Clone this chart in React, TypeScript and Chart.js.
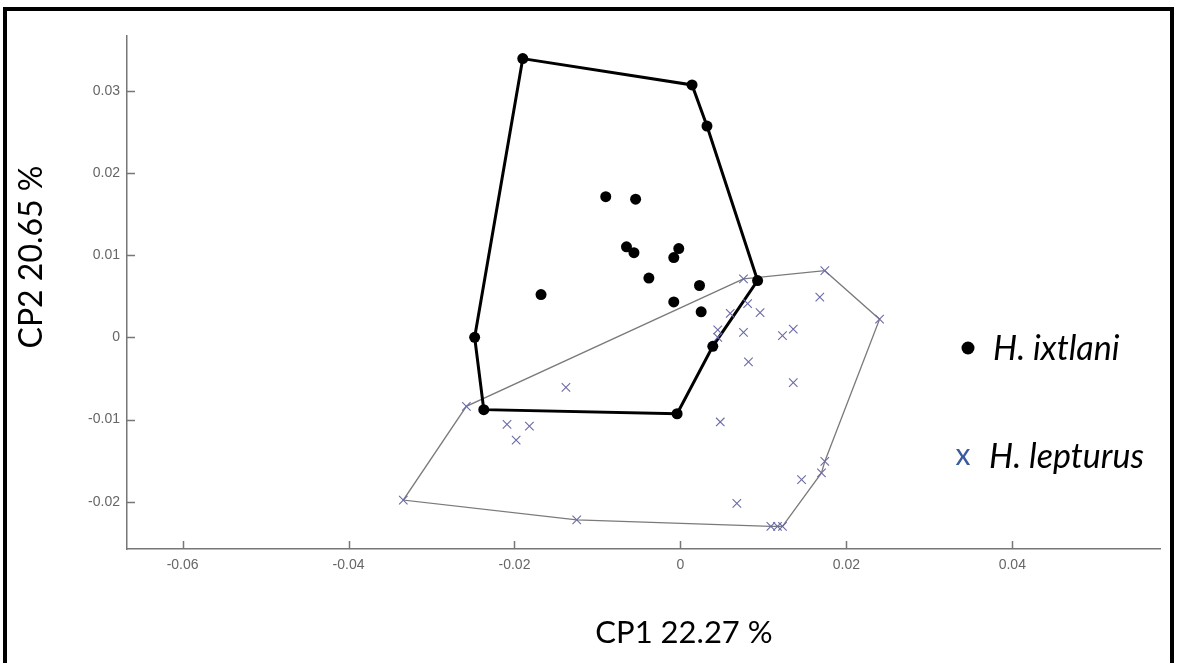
import React, { useEffect, useRef } from "react";
import { Chart, registerables } from "chart.js";
Chart.register(...registerables);

// H. ixtlani (black dots)
const ixtlaniX = [-0.0190, 0.0014, 0.0032, -0.0090, -0.0054, -0.0065, -0.0056, -0.0002, -0.0008, -0.0038, 0.0023, -0.0168, -0.0008, 0.0025, 0.0093, -0.0248, 0.0039, -0.0237, -0.0004];
const ixtlaniY = [0.0339, 0.0307, 0.0257, 0.0171, 0.0168, 0.0110, 0.0103, 0.0108, 0.0097, 0.0072, 0.0063, 0.0052, 0.0043, 0.0031, 0.0069, 0.0000, -0.0011, -0.0088, -0.0093];
const ixtlaniHull = [0, 1, 2, 14, 16, 18, 17, 15, 0];

// H. lepturus (blue crosses)
const lepturusX = [0.0076, 0.0174, 0.0240, 0.0168, 0.0081, 0.0060, 0.0096, 0.0045, 0.0045, 0.0076, 0.0123, 0.0136, 0.0082, 0.0136, -0.0138, -0.0258, -0.0209, -0.0182, -0.0198, 0.0048, 0.0174, 0.0170, 0.0146, 0.0068, -0.0334, -0.0125, 0.0109, 0.0117, 0.0123];
const lepturusY = [0.0071, 0.0081, 0.0022, 0.0049, 0.0041, 0.0029, 0.0030, 0.0009, 0.0000, 0.0006, 0.0002, 0.0010, -0.0030, -0.0055, -0.0061, -0.0084, -0.0106, -0.0108, -0.0125, -0.0103, -0.0151, -0.0165, -0.0173, -0.0202, -0.0198, -0.0222, -0.0230, -0.0230, -0.0230];
const lepturusHull = [0, 1, 2, 20, 21, 28, 26, 25, 24, 15, 0];

const xTickValues = [-0.06, -0.04, -0.02, 0, 0.02, 0.04];
const yTickValues = [-0.02, -0.01, 0, 0.01, 0.02, 0.03];
const xTitle = "CP1 22.27 %";
const yTitle = "CP2 20.65 %";
const seriesNames = ["H. ixtlani", "H. lepturus"];

const W = 1177;
const H = 663;
const LEP_COLOR = "#6a6aa6";

export default function App() {
  const ref = useRef<HTMLCanvasElement>(null);

  useEffect(() => {
    document.body.style.margin = "0";
    const toPts = (xs: number[], ys: number[]) => xs.map((x, i) => ({ x, y: ys[i] }));
    const ix = toPts(ixtlaniX, ixtlaniY);
    const lp = toPts(lepturusX, lepturusY);
    const ixHull = ixtlaniHull.map((i) => ix[i]);
    const lpHull = lepturusHull.map((i) => lp[i]);

    const fmt = (v: number) => String(Number(v.toFixed(2)));

    const decor = {
      id: "decor",
      beforeDraw(chart: any) {
        const ctx = chart.ctx;
        ctx.save();
        ctx.fillStyle = "#fff";
        ctx.fillRect(0, 0, W, H);
        ctx.restore();
      },
      afterDraw(chart: any) {
        const ctx = chart.ctx;
        const xs = chart.scales.x;
        const ys = chart.scales.y;
        ctx.save();
        ctx.strokeStyle = "#777";
        ctx.lineWidth = 1.5;
        xs.ticks.forEach((t: any) => {
          const px = Math.round(xs.getPixelForValue(t.value)) + 0.5;
          ctx.beginPath();
          ctx.moveTo(px, xs.top);
          ctx.lineTo(px, xs.top - 8);
          ctx.stroke();
        });
        ys.ticks.forEach((t: any) => {
          const py = Math.round(ys.getPixelForValue(t.value)) + 0.5;
          ctx.beginPath();
          ctx.moveTo(ys.right, py);
          ctx.lineTo(ys.right + 8, py);
          ctx.stroke();
        });

        // axis titles
        ctx.fillStyle = "#000";
        ctx.font = "31px Lato";
        ctx.textAlign = "center";
        ctx.textBaseline = "middle";
        ctx.fillText(xTitle, 684, 633);
        ctx.save();
        ctx.translate(32, 257);
        ctx.rotate(-Math.PI / 2);
        ctx.font = "32px Lato";
        ctx.fillText(yTitle, 0, 0);
        ctx.restore();

        // legend
        ctx.beginPath();
        ctx.fillStyle = "#000";
        ctx.arc(968, 348, 6.5, 0, Math.PI * 2);
        ctx.fill();
        ctx.font = "italic 34px Lato";
        ctx.textAlign = "left";
        ctx.fillText(seriesNames[0], 993, 349);
        ctx.fillStyle = "#3a5ba0";
        ctx.font = "30px Lato";
        ctx.textAlign = "center";
        ctx.fillText("x", 963, 455);
        ctx.fillStyle = "#000";
        ctx.font = "italic 34px Lato";
        ctx.textAlign = "left";
        ctx.fillText(seriesNames[1], 989, 457);

        // frame
        ctx.strokeStyle = "#000";
        ctx.lineWidth = 4;
        ctx.strokeRect(5, 9, 1167, 700);
        ctx.restore();
      },
    };

    const chart = new Chart(ref.current!, {
      type: "scatter",
      data: {
        datasets: [
          {
            label: seriesNames[0],
            data: ix,
            pointStyle: "circle",
            pointRadius: 5.5,
            backgroundColor: "#000",
            borderColor: "#000",
            borderWidth: 0,
            showLine: false,
          },
          {
            label: seriesNames[1],
            data: lp,
            pointStyle: "cross",
            rotation: 45,
            pointRadius: 6,
            borderColor: LEP_COLOR,
            borderWidth: 1.1,
            showLine: false,
          } as any,
          {
            label: "ixtlani hull",
            data: ixHull,
            showLine: true,
            pointRadius: 0,
            borderColor: "#000",
            borderWidth: 3,
            fill: false,
          },
          {
            label: "lepturus hull",
            data: lpHull,
            showLine: true,
            pointRadius: 0,
            borderColor: "#7a7a7a",
            borderWidth: 1.3,
            fill: false,
          },
        ],
      },
      options: {
        responsive: false,
        animation: false,
        events: [],
        layout: { padding: { left: 0, top: 36, right: 17, bottom: 0 } },
        plugins: { legend: { display: false }, tooltip: { enabled: false } },
        scales: {
          x: {
            type: "linear",
            min: -0.0667,
            max: 0.0578,
            grid: { display: false, drawTicks: false },
            border: { display: true, color: "#777", width: 1.5 },
            afterBuildTicks: (s: any) => {
              s.ticks = xTickValues.map((v) => ({ value: v }));
            },
            afterFit: (s: any) => {
              s.height = 114;
            },
            ticks: {
              padding: 8,
              color: "#666",
              font: { family: "Liberation Sans", size: 14 },
              maxRotation: 0,
              autoSkip: false,
              callback: (v: any) => fmt(Number(v)),
            },
          },
          y: {
            type: "linear",
            min: -0.02575,
            max: 0.03665,
            grid: { display: false, drawTicks: false },
            border: { display: true, color: "#777", width: 1.5 },
            afterBuildTicks: (s: any) => {
              s.ticks = yTickValues.map((v) => ({ value: v }));
            },
            afterFit: (s: any) => {
              s.width = 127;
            },
            ticks: {
              padding: 7,
              color: "#666",
              font: { family: "Liberation Sans", size: 14 },
              autoSkip: false,
              callback: (v: any) => fmt(Number(v)),
            },
          },
        },
      },
      plugins: [decor],
    });
    return () => chart.destroy();
  }, []);

  return (
    <div style={{ width: W, height: H, position: "relative", background: "#fff" }}>
      <canvas ref={ref} width={W} height={H} style={{ display: "block" }} />
    </div>
  );
}
